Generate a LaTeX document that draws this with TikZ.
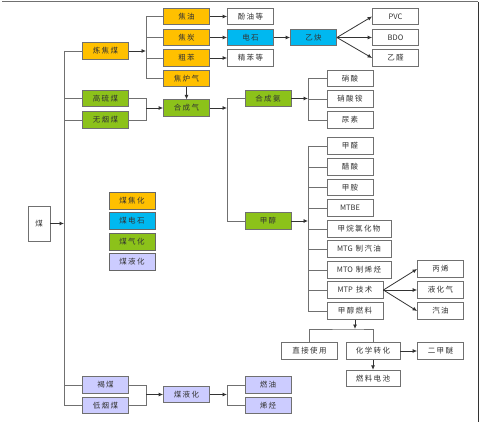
\documentclass[tikz,border=0pt]{standalone}
\usepackage{fontspec}
\newfontfamily\cjk[LetterSpace=18]{Noto Sans CJK SC}
\newfontfamily\latn{Noto Sans CJK SC}
\usetikzlibrary{arrows.meta}
\definecolor{cyel}{HTML}{FFC000}
\definecolor{ccya}{HTML}{00B8F0}
\definecolor{cgrn}{HTML}{8CC21A}
\definecolor{clav}{HTML}{CCCCFF}
\definecolor{cline}{HTML}{707070}
\definecolor{ctxt}{HTML}{333333}
\tikzset{
  box/.style={draw=cline, line width=0.8pt, minimum height=16.5pt, minimum width=46pt, inner sep=0pt,
    font=\cjk\fontsize{7.5}{9}\selectfont, text=ctxt},
  wide/.style={minimum width=64pt},
  mid/.style={minimum width=56pt},
  yel/.style={box, fill=cyel},
  cya/.style={box, fill=ccya},
  grn/.style={box, fill=cgrn},
  lav/.style={box, fill=clav},
  wht/.style={box, fill=white},
  con/.style={draw=cline, line width=0.8pt},
  arr/.style={con, -{Latex[length=4.5pt,width=4pt]}, draw=black!80},
}
\begin{document}
\begin{tikzpicture}[x=1pt,y=-1pt]
\useasboundingbox (0,0) rectangle (482,422);
\fill[white] (0,0) rectangle (482,422);
\draw[cline, line width=1pt] (2,2) -- (478,2);
\draw[black!80, line width=1pt] (478,2) -- (478,422);

% left column
\node[wht, minimum width=22pt, minimum height=35pt] (mei) at (39,223.5) {煤};
\node[yel] (ljm) at (105.5,51) {炼焦煤};
\node[grn] (glm) at (105.5,98.5) {高硫煤};
\node[grn] (wym) at (105.5,120) {无烟煤};
\node[lav] (hm) at (105.5,385) {褐煤};
\node[lav] (dym) at (105.5,405.5) {低烟煤};

% legend
\node[yel, draw=black!60] (lg1) at (132,201) {煤焦化};
\node[cya, draw=black!60] (lg2) at (132,221) {煤电石};
\node[grn, draw=black!60] (lg3) at (132,242) {煤气化};
\node[lav, draw=black!60] (lg4) at (132,262) {煤液化};

% second column
\node[yel] (jy) at (186.5,16.5) {焦油};
\node[yel] (jt) at (186.5,37.5) {焦炭};
\node[yel] (cb) at (186.5,58) {粗苯};
\node[yel] (jlq) at (186.5,78.5) {焦炉气};
\node[grn] (hcq) at (186.5,108) {合成气};
\node[lav] (myh) at (186.5,394.5) {煤液化};

% third column
\node[wht] (fyd) at (250.5,16.5) {酚油等};
\node[cya] (ds) at (250.5,37.5) {电石};
\node[wht] (jbd) at (250.5,58) {精苯等};
\node[grn] (hca) at (268,98.5) {合成氨};
\node[grn] (jc) at (268,221) {甲醇};
\node[lav] (ry) at (268,385) {燃油};
\node[lav] (xt) at (268,405.5) {烯烃};

\node[cya] (yq) at (313.5,37.5) {乙炔};

% products
\node[wht] (pvc) at (395.5,16.5) {\latn PVC};
\node[wht] (bdo) at (395.5,37.5) {\latn BDO};
\node[wht] (yq2) at (395.5,58) {乙醛};
\node[wht] (xs) at (350,78.5) {硝酸};
\node[wht] (xsa) at (350,99) {硝酸铵};
\node[wht] (ns) at (350,120) {尿素};
\node[wht] (jq) at (350,146) {甲醛};
\node[wht] (cs) at (350,167) {醋酸};
\node[wht] (ja) at (350,187.5) {甲胺};
\node[wht] (mtbe) at (350,208) {\latn MTBE};
\node[wht, wide] (jwl) at (359,229) {甲烷氯化物};
\node[wht, wide] (mtg) at (359,249) {{\latn MTG} 制汽油};
\node[wht, wide] (mto) at (359,270) {{\latn MTO} 制烯烃};
\node[wht, mid] (mtp) at (355,290) {{\latn MTP} 技术};
\node[wht, mid] (jcrl) at (355,311) {甲醇燃料};
\node[wht] (bx) at (440.5,269) {丙烯};
\node[wht] (yhq) at (440.5,290) {液化气};
\node[wht] (qy) at (440.5,311) {汽油};
\node[wht, mid] (zjsy) at (309.5,351) {直接使用};
\node[wht, minimum width=54pt] (hxzh) at (373,351) {化学转化};
\node[wht] (ejm) at (440.5,351) {二甲醚};
\node[wht, minimum width=54pt] (rldc) at (373,378.5) {燃料电池};

% main bus
\coordinate (b0) at (64,223.5);
\draw[arr] (mei.east) -- (b0);
\draw[con] (64,51) -- (64,405.5);
\foreach \n in {ljm,glm,wym,hm,dym} \draw[con] (\n.west) -- (\n.west -| b0);

% coking fan
\coordinate (b1) at (146,51);
\draw[arr] (ljm.east) -- (b1);
\draw[con] (146,16.5) -- (146,78.5);
\foreach \n in {jy,jt,cb,jlq} \draw[con] (\n.west -| b1) -- (\n.west);
\draw[arr] (jy) -- (fyd);
\draw[arr] (jt) -- (ds);
\draw[arr] (cb) -- (jbd);
\draw[arr] (ds) -- (yq);
\draw[arr] (yq.east) -- (pvc.west);
\draw[arr] (yq.east) -- (bdo.west);
\draw[arr] (yq.east) -- (yq2.west);
\draw[arr] (jlq) -- (hcq);

% gasification merge
\coordinate (b2) at (146,108);
\draw[con] (glm.east) -- (glm.east -| b2) -- (wym.east -| b2) -- (wym.east);
\draw[arr] (b2) -- (hcq.west);
\coordinate (b3) at (227,108);
\draw[arr] (hcq.east) -- (b3);
\draw[con] (hca.west -| b3) -- (jc.west -| b3);
\draw[con] (hca.west -| b3) -- (hca.west);
\draw[con] (jc.west -| b3) -- (jc.west);

% ammonia fan
\coordinate (b4) at (308,98.5);
\draw[arr] (hca.east) -- (b4);
\draw[con] (xs.west -| b4) -- (ns.west -| b4);
\foreach \n in {xs,xsa,ns} \draw[con] (\n.west -| b4) -- (\n.west);

% methanol fan
\coordinate (b5) at (308,221);
\draw[arr] (jc.east) -- (b5);
\draw[con] (jq.west -| b5) -- (jcrl.west -| b5);
\foreach \n in {jq,cs,ja,mtbe,jwl,mtg,mto,mtp,jcrl} \draw[con] (\n.west -| b5) -- (\n.west);
\draw[arr] (mtp.east) -- (bx.west);
\draw[arr] (mtp.east) -- (yhq.west);
\draw[arr] (mtp.east) -- (qy.west);

% methanol fuel
\coordinate (b6) at (355,329);
\draw[arr] (jcrl.south) -- (b6);
\draw[con] (zjsy.north) |- (b6) -| (hxzh.north);
\draw[arr] (hxzh) -- (ejm);
\draw[arr] (hxzh) -- (rldc);

% liquefaction
\coordinate (b7) at (146,394.5);
\draw[con] (hm.east) -- (hm.east -| b7) -- (dym.east -| b7) -- (dym.east);
\draw[arr] (b7) -- (myh.west);
\coordinate (b8) at (227,394.5);
\draw[arr] (myh.east) -- (b8);
\draw[con] (ry.west -| b8) -- (xt.west -| b8);
\draw[con] (ry.west -| b8) -- (ry.west);
\draw[con] (xt.west -| b8) -- (xt.west);
\end{tikzpicture}
\end{document}
